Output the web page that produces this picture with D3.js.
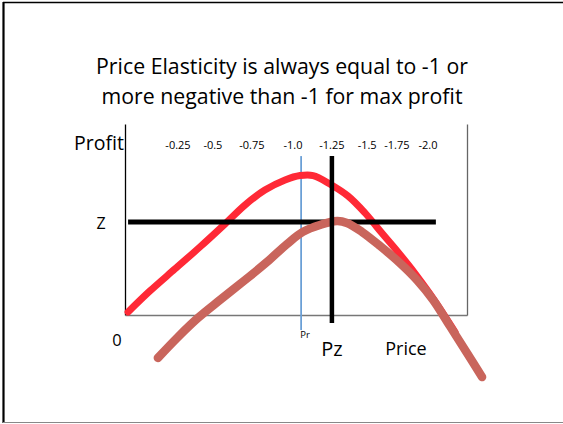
<!DOCTYPE html>
<html>
<head>
<meta charset="utf-8">
<script src="https://cdn.jsdelivr.net/npm/d3@7"></script>
<style>
  html, body { margin: 0; padding: 0; background: #fff; }
  svg { display: block; }
  text { font-family: "Open Sans", "Noto Sans", sans-serif; fill: #000; }
</style>
</head>
<body>
<svg id="chart" width="563" height="424"></svg>
<script>
// Title lines
const titleLines = ["Price Elasticity is always equal to -1 or", "more negative than -1 for max profit"];

// Elasticity labels along the top of the price axis, with their price positions
const elasticityLabels = ["-0.25", "-0.5", "-0.75", "-1.0", "-1.25", "-1.5", "-1.75", "-2.0"];
const elasticityPrices = [15.5, 25.7, 37.1, 49.1, 60.5, 70.8, 79.5, 88.6];

// Profit curve (bright red): price, profit
const profitPrice  = [0.9, 7.3, 14.6, 21.9, 29.2, 35.1, 40.9, 46.8, 51.2, 55.0, 59.9, 65.2, 70.2, 75.1, 79.8, 84.5, 89.2, 93.9, 96.5];
const profitValue  = [1.6, 12.6, 24.1, 35.6, 47.6, 57.6, 65.4, 70.7, 73.0, 73.0, 68.6, 62.3, 53.4, 42.9, 33.0, 22.5, 11.0, -1.6, -8.9];

// Shifted profit curve (brown-red): price, profit
const shiftedPrice = [9.6, 15.5, 21.3, 27.8, 35.1, 41.5, 47.4, 52.0, 57.0, 62.0, 64.9, 69.3, 74.6, 80.4, 85.4, 90.1, 95.0, 100, 104.4];
const shiftedValue = [-22.5, -11.5, -1.6, 7.9, 18.3, 27.7, 37.2, 43.5, 47.1, 49.2, 48.2, 43.5, 36.1, 27.2, 18.3, 7.9, -5.8, -19.9, -32.5];

// Reference levels
const zProfit = 48.7;       // horizontal level Z
const zRange = [0.9, 90.9];
const pzPrice = 60.5;       // price Pz
const prPrice = 51.5;       // price Pr

const svg = d3.select("#chart");

// Slide frame
svg.append("line").attr("x1", 3.5).attr("x2", 3.5).attr("y1", 2).attr("y2", 423)
  .attr("stroke", "#000").attr("stroke-width", 2.2);
svg.append("line").attr("x1", 3).attr("x2", 563).attr("y1", 2.5).attr("y2", 2.5)
  .attr("stroke", "#000").attr("stroke-width", 1.6);
svg.append("line").attr("x1", 3).attr("x2", 563).attr("y1", 422.5).attr("y2", 422.5)
  .attr("stroke", "#888").attr("stroke-width", 1.2);

// Title
svg.append("g").selectAll("text").data(titleLines).join("text")
  .attr("x", 282).attr("y", (d, i) => 74 + i * 30)
  .attr("text-anchor", "middle").attr("font-size", 21.3)
  .text(d => d);

const x = d3.scaleLinear().domain([0, 100]).range([125, 467]);
const y = d3.scaleLinear().domain([0, 100]).range([315, 124]);

// Plot frame: left axis black, bottom and right grey
const axisLeft = d3.axisLeft(y).tickValues([]).tickSizeOuter(0);
svg.append("g").attr("transform", `translate(${x(0)},0)`).call(axisLeft)
  .call(g => g.select(".domain").attr("stroke", "#000").attr("stroke-width", 1.3));
const axisBottom = d3.axisBottom(x).tickValues([]).tickSizeOuter(0);
svg.append("g").attr("transform", `translate(0,${y(0)})`).call(axisBottom)
  .call(g => g.select(".domain").attr("stroke", "#777").attr("stroke-width", 1.5));
const axisRight = d3.axisRight(y).tickValues([]).tickSizeOuter(0);
svg.append("g").attr("transform", `translate(${x(100)},0)`).call(axisRight)
  .call(g => g.select(".domain").attr("stroke", "#666").attr("stroke-width", 1.3));

// Elasticity labels
svg.append("g").selectAll("text").data(elasticityLabels).join("text")
  .attr("x", (d, i) => x(elasticityPrices[i])).attr("y", 149)
  .attr("text-anchor", "middle").attr("font-size", 11)
  .text(d => d);

// Axis captions
svg.append("text").attr("x", 74).attr("y", 150).attr("font-size", 19.5).text("Profit");
svg.append("text").attr("x", 101).attr("y", 229).attr("text-anchor", "middle").attr("font-size", 16).text("Z");
svg.append("text").attr("x", 117).attr("y", 346).attr("text-anchor", "middle").attr("font-size", 16.5).text("0");
svg.append("text").attr("x", 406).attr("y", 355).attr("text-anchor", "middle").attr("font-size", 18).text("Price");
svg.append("text").attr("x", x(pzPrice)).attr("y", 356).attr("text-anchor", "middle").attr("font-size", 20).text("Pz");
svg.append("text").attr("x", x(prPrice) + 4).attr("y", 338).attr("text-anchor", "middle").attr("font-size", 9.5).text("Pr");

// Pr vertical line (blue)
svg.append("line")
  .attr("x1", x(prPrice)).attr("x2", x(prPrice)).attr("y1", y(83.2)).attr("y2", y(-7.9))
  .attr("stroke", "#6a9fd6").attr("stroke-width", 1.8);

const line = d3.line().x(d => x(d[0])).y(d => y(d[1])).curve(d3.curveCatmullRom.alpha(0.5));

// Profit curves
svg.append("path").datum(profitPrice.map((p, i) => [p, profitValue[i]]))
  .attr("d", line).attr("fill", "none")
  .attr("stroke", "#ff2936").attr("stroke-width", 7)
  .attr("stroke-linecap", "round").attr("stroke-linejoin", "round");

// Z horizontal line
svg.append("line")
  .attr("x1", x(zRange[0])).attr("x2", x(zRange[1])).attr("y1", y(zProfit)).attr("y2", y(zProfit))
  .attr("stroke", "#000").attr("stroke-width", 5);

svg.append("path").datum(shiftedPrice.map((p, i) => [p, shiftedValue[i]]))
  .attr("d", line).attr("fill", "none")
  .attr("stroke", "#c9655c").attr("stroke-width", 8.5)
  .attr("stroke-linecap", "round").attr("stroke-linejoin", "round");

// Pz vertical line
svg.append("line")
  .attr("x1", x(pzPrice)).attr("x2", x(pzPrice)).attr("y1", y(83.2)).attr("y2", y(-4.2))
  .attr("stroke", "#000").attr("stroke-width", 4.5);
</script>
</body>
</html>
